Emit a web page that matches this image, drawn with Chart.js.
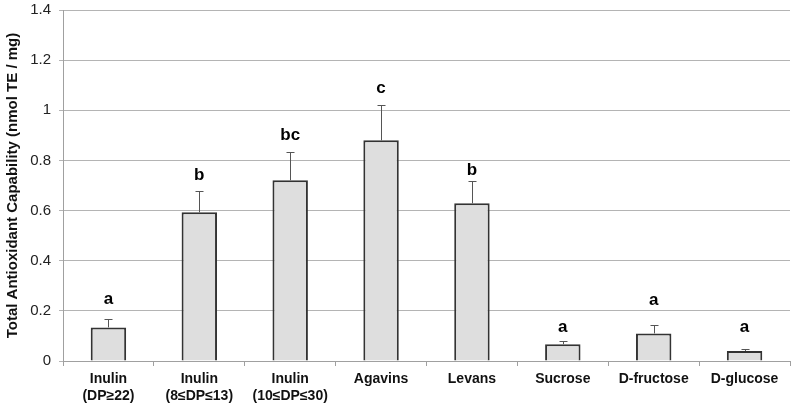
<!DOCTYPE html>
<html>
<head>
<meta charset="utf-8">
<script src="https://cdn.jsdelivr.net/npm/chart.js@4"></script>
<style>
  html, body { margin: 0; padding: 0; background: #fff; }
  #wrap { width: 795px; height: 406px; }
</style>
</head>
<body>
<div id="wrap"><canvas id="grafico"></canvas></div>
<script>
// datos
const categorias = [
  ['Inulin', '(DP≥22)'],
  ['Inulin', '(8≤DP≤13)'],
  ['Inulin', '(10≤DP≤30)'],
  'Agavins',
  'Levans',
  'Sucrose',
  'D-fructose',
  'D-glucose'
];
const capacidad = [0.134, 0.593, 0.721, 0.880, 0.629, 0.067, 0.110, 0.040];
const errorSup = [0.032, 0.086, 0.113, 0.143, 0.090, 0.012, 0.032, 0.009];
const letras = ['a', 'b', 'bc', 'c', 'b', 'a', 'a', 'a'];
const alturaLetras = [0.245, 0.742, 0.901, 1.089, 0.762, 0.136, 0.243, 0.136];
const ticksY = [0, 0.2, 0.4, 0.6, 0.8, 1, 1.2, 1.4];

const fuente = '"Liberation Sans", Arial, sans-serif';

// barras de error + letras
const extras = {
  id: 'extras',
  afterDatasetsDraw(chart) {
    const { ctx, scales: { x, y } } = chart;
    ctx.save();
    ctx.strokeStyle = '#555';
    ctx.lineWidth = 1;
    capacidad.forEach((v, i) => {
      const cx = Math.round(x.getPixelForValue(i)) + 0.5;
      const y0 = y.getPixelForValue(v);
      const y1 = Math.round(y.getPixelForValue(v + errorSup[i])) + 0.5;
      ctx.beginPath();
      ctx.moveTo(cx, y0);
      ctx.lineTo(cx, y1);
      ctx.moveTo(cx - 4, y1);
      ctx.lineTo(cx + 4, y1);
      ctx.stroke();
    });
    ctx.fillStyle = '#000';
    ctx.font = 'bold 17px ' + fuente;
    ctx.textAlign = 'center';
    ctx.textBaseline = 'middle';
    letras.forEach((l, i) => {
      ctx.fillText(l, x.getPixelForValue(i), y.getPixelForValue(alturaLetras[i]));
    });
    ctx.restore();
  }
};

new Chart(document.getElementById('grafico'), {
  type: 'bar',
  data: {
    labels: categorias,
    datasets: [{
      data: capacidad,
      backgroundColor: '#dedede',
      borderColor: '#333',
      borderWidth: 2,
      barPercentage: 0.39,
      categoryPercentage: 1
    }]
  },
  options: {
    responsive: true,
    maintainAspectRatio: false,
    animation: false,
    layout: { padding: { top: 10, right: 5, left: 0, bottom: 0 } },
    plugins: { legend: { display: false }, tooltip: { enabled: false } },
    scales: {
      x: {
        grid: { drawOnChartArea: false, color: '#a0a0a0', tickLength: 5, offset: true },
        border: { color: '#a0a0a0' },
        ticks: {
          color: '#111',
          font: { family: fuente, size: 14, weight: 'bold', lineHeight: 1.2 },
          padding: 5,
          maxRotation: 0
        },
        afterFit: s => { s.height = 45; }
      },
      y: {
        min: 0,
        max: 1.4,
        afterBuildTicks: s => { s.ticks = ticksY.map(v => ({ value: v })); },
        grid: { color: '#b4b4b4', tickLength: 4 },
        border: { color: '#a0a0a0' },
        ticks: {
          color: '#222',
          font: { family: fuente, size: 15 },
          padding: 8,
          callback: v => String(v)
        },
        title: {
          display: true,
          text: 'Total Antioxidant Capability (nmol TE / mg)',
          color: '#111',
          font: { family: fuente, size: 15, weight: 'bold' },
          padding: { top: 4, bottom: 2 }
        },
        afterFit: s => { s.width = 63; s.paddingTop = 0; s.paddingBottom = 0; }
      }
    }
  },
  plugins: [extras]
});
</script>
</body>
</html>
